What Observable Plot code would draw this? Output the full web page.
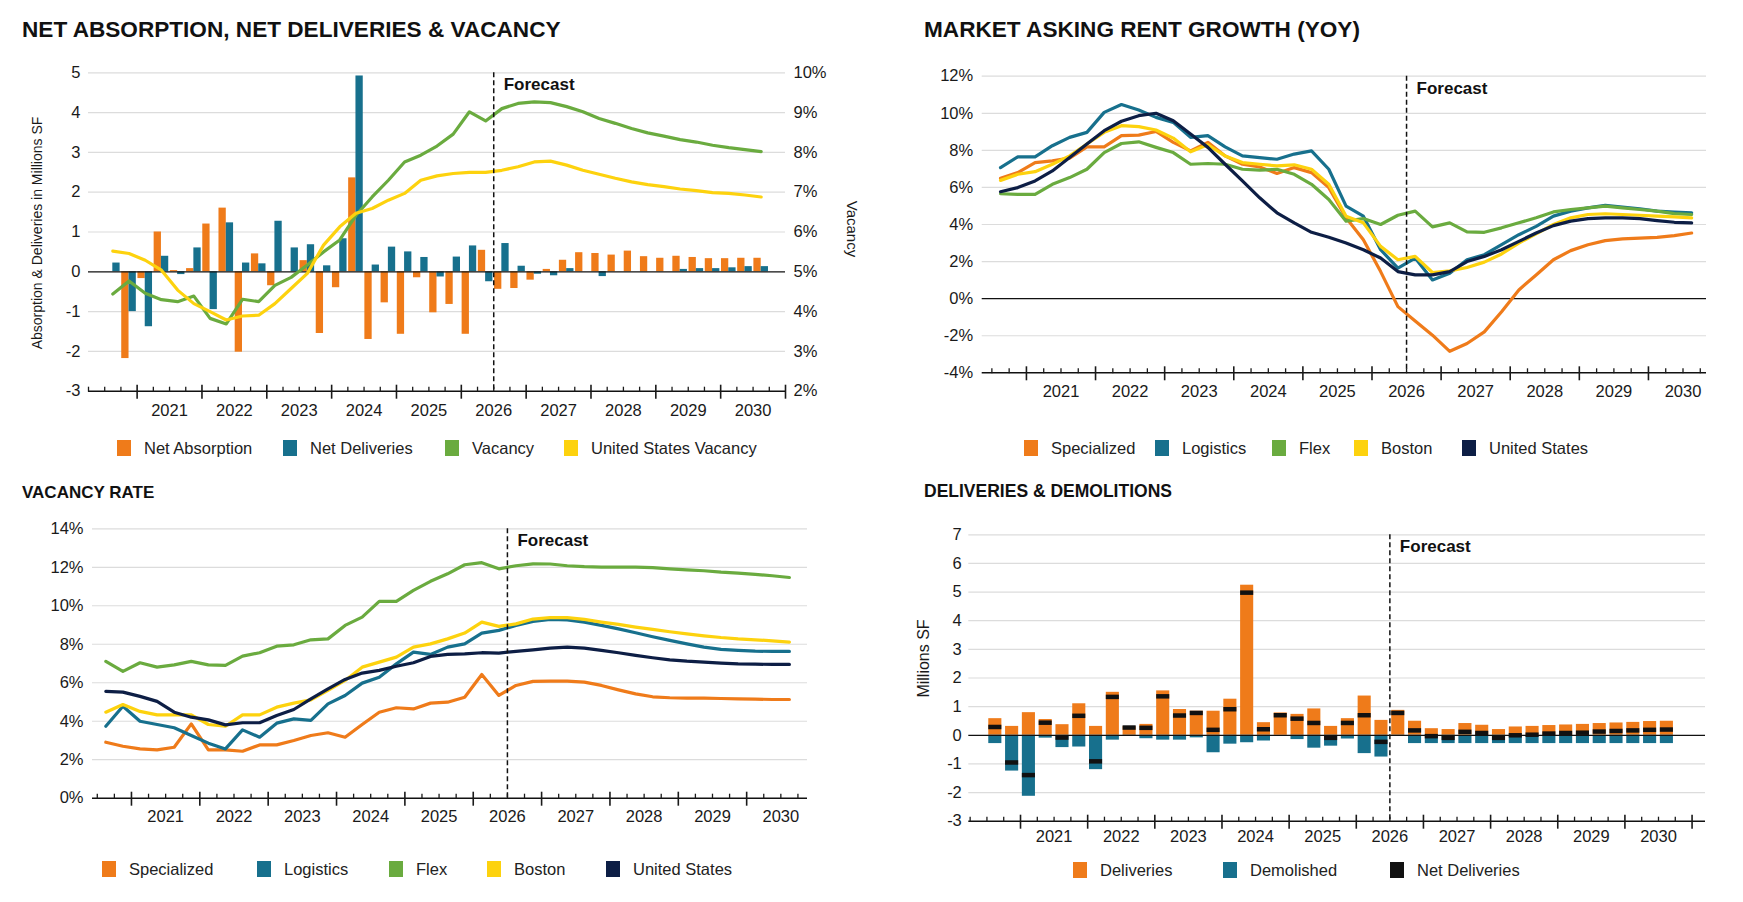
<!DOCTYPE html>
<html><head><meta charset="utf-8">
<script src="https://cdn.jsdelivr.net/npm/d3@7"></script>
<script src="https://cdn.jsdelivr.net/npm/@observablehq/plot@0.6"></script>
<style>
body{margin:0;background:#fff;font-family:"Liberation Sans",Arial,Helvetica,sans-serif;color:#111;}
#page{position:relative;width:1743px;height:902px;overflow:hidden;background:#fff;}
.title{position:absolute;font-weight:bold;white-space:nowrap;color:#111;line-height:1;}
.legend-item{position:absolute;display:flex;align-items:center;height:20px;font-size:16.5px;white-space:nowrap;color:#222;}
.legend-item .sw{width:14px;height:16px;margin-right:13px;}
</style></head><body><div id="page"></div>
<script>
// ---------- shared categories ----------
const quarters = ["2020 Q3","2020 Q4","2021 Q1","2021 Q2","2021 Q3","2021 Q4","2022 Q1","2022 Q2","2022 Q3","2022 Q4",
  "2023 Q1","2023 Q2","2023 Q3","2023 Q4","2024 Q1","2024 Q2","2024 Q3","2024 Q4","2025 Q1","2025 Q2","2025 Q3","2025 Q4",
  "2026 Q1","2026 Q2","2026 Q3","2026 Q4","2027 Q1","2027 Q2","2027 Q3","2027 Q4","2028 Q1","2028 Q2","2028 Q3","2028 Q4",
  "2029 Q1","2029 Q2","2029 Q3","2029 Q4","2030 Q1","2030 Q2","2030 Q3"];
const forecastStart = "2026 Q3";
const yearLabels = ["2021","2022","2023","2024","2025","2026","2027","2028","2029","2030"];

// ---------- panel 1: net absorption, net deliveries & vacancy ----------
const netAbsorption = [0,-2.18,-0.17,1.0,0.03,0.08,1.2,1.6,-2.02,0.45,-0.35,0,0.28,-1.55,-0.4,2.36,-1.7,-0.78,-1.57,-0.15,-1.03,-0.82,-1.57,0.54,-0.44,-0.42,-0.21,0.06,0.29,0.48,0.46,0.42,0.52,0.38,0.34,0.39,0.36,0.33,0.33,0.34,0.34];
const netDeliveries = [0.22,-1.0,-1.38,0.39,-0.07,0.6,-0.95,1.23,0.22,0.2,1.27,0.6,0.68,0.15,0.83,4.92,0.17,0.62,0.5,0.36,-0.13,0.37,0.65,-0.25,0.71,0.14,-0.06,-0.1,0.08,0,-0.12,0,0,0,0,0.06,0.08,0.08,0.1,0.13,0.13];
const vacancyMarket = [4.44,4.77,4.46,4.3,4.25,4.39,3.83,3.69,4.31,4.25,4.66,4.86,5.17,5.5,5.8,6.42,6.88,7.3,7.76,7.93,8.16,8.46,9.02,8.79,9.1,9.23,9.27,9.25,9.15,9.02,8.85,8.73,8.6,8.49,8.41,8.32,8.26,8.18,8.12,8.07,8.02];
const vacancyUS = [5.52,5.46,5.29,5.04,4.54,4.2,4.0,3.79,3.89,3.91,4.2,4.58,4.96,5.67,6.13,6.47,6.59,6.8,6.97,7.3,7.41,7.47,7.5,7.5,7.55,7.64,7.76,7.78,7.68,7.55,7.45,7.35,7.26,7.19,7.14,7.08,7.04,6.99,6.97,6.93,6.88];
const absorptionTicks = [-3,-2,-1,0,1,2,3,4,5];
const vacancyTicks = [2,3,4,5,6,7,8,9,10];
const vacancyAtZero = 5; // right-axis value aligned with 0 on the left axis

// ---------- panel 2: market asking rent growth ----------
const rentSpecialized = [6.5,6.8,7.34,7.43,7.58,8.19,8.19,8.79,8.82,9.02,8.43,7.97,8.43,7.7,7.25,7.1,6.75,7.07,6.8,5.99,4.36,3.18,1.46,-0.43,-1.21,-1.97,-2.84,-2.42,-1.79,-0.71,0.47,1.28,2.1,2.59,2.91,3.13,3.22,3.27,3.31,3.4,3.54];
const rentLogistics = [7.07,7.65,7.65,8.25,8.7,8.97,10.05,10.47,10.18,9.78,9.51,8.7,8.79,8.19,7.7,7.61,7.52,7.8,7.97,6.98,4.99,4.45,2.64,1.65,2.19,1.01,1.37,2.1,2.37,2.91,3.45,3.9,4.45,4.72,4.9,5.03,4.94,4.85,4.72,4.67,4.63];
const rentFlex = [5.66,5.62,5.62,6.17,6.53,6.98,7.88,8.37,8.46,8.16,7.88,7.25,7.29,7.25,6.98,6.93,6.98,6.71,6.17,5.35,4.18,4.32,4.0,4.5,4.72,3.87,4.09,3.6,3.58,3.82,4.09,4.36,4.68,4.81,4.9,4.99,4.9,4.81,4.72,4.59,4.54];
const rentBoston = [6.38,6.71,6.85,7.25,7.7,8.34,8.97,9.33,9.28,9.1,8.66,7.92,8.3,7.7,7.34,7.25,7.16,7.22,6.98,6.17,4.45,4.09,2.82,2.1,2.28,1.41,1.5,1.68,1.97,2.41,3.0,3.49,4.0,4.36,4.54,4.58,4.54,4.5,4.45,4.41,4.36];
const rentUS = [5.77,5.99,6.35,6.89,7.61,8.34,9.06,9.57,9.87,10.0,9.6,8.88,8.16,7.25,6.35,5.44,4.63,4.09,3.58,3.31,3.0,2.64,2.19,1.46,1.28,1.28,1.46,2.0,2.28,2.64,3.09,3.54,3.94,4.18,4.32,4.36,4.36,4.32,4.21,4.12,4.09];
const rentTicks = [-4,-2,0,2,4,6,8,10,12];

// ---------- panel 3: vacancy rate ----------
const vacSpecialized = [2.91,2.7,2.56,2.51,2.65,3.86,2.51,2.51,2.44,2.77,2.77,3.0,3.26,3.4,3.17,3.83,4.47,4.7,4.64,4.94,4.99,5.25,6.43,5.34,5.86,6.07,6.08,6.08,6.03,5.86,5.63,5.42,5.27,5.22,5.2,5.2,5.18,5.16,5.15,5.13,5.13];
const vacLogistics = [3.74,4.78,4.0,3.83,3.66,3.26,2.86,2.56,3.55,3.17,3.9,4.12,4.04,4.9,5.34,5.98,6.29,6.98,7.59,7.47,7.85,8.02,8.58,8.72,8.98,9.19,9.29,9.27,9.15,8.98,8.8,8.6,8.39,8.2,8.02,7.85,7.73,7.68,7.64,7.63,7.63];
const vacFlex = [7.11,6.59,7.04,6.81,6.93,7.11,6.93,6.9,7.38,7.56,7.9,7.97,8.23,8.28,8.98,9.41,10.23,10.23,10.8,11.27,11.66,12.13,12.24,11.92,12.08,12.18,12.17,12.08,12.03,12.01,12.01,12.01,11.98,11.92,11.87,11.82,11.75,11.7,11.63,11.56,11.47];
const vacBoston = [4.47,4.87,4.51,4.33,4.33,4.33,3.83,3.74,4.33,4.33,4.73,4.94,5.11,5.6,6.12,6.81,7.07,7.33,7.85,8.02,8.28,8.58,9.15,8.93,9.06,9.31,9.38,9.38,9.29,9.15,9.03,8.89,8.77,8.65,8.54,8.44,8.35,8.28,8.23,8.18,8.11];
const vacUS = [5.55,5.51,5.29,5.03,4.47,4.21,4.07,3.81,3.92,3.92,4.3,4.61,5.16,5.68,6.17,6.5,6.64,6.86,7.04,7.37,7.47,7.5,7.56,7.54,7.63,7.71,7.8,7.85,7.8,7.68,7.56,7.42,7.3,7.19,7.12,7.07,7.02,6.98,6.97,6.95,6.95];
const vacRateTicks = [0,2,4,6,8,10,12,14];

// ---------- panel 4: deliveries & demolitions ----------
const deliveries = [0.58,0.31,0.79,0.55,0.37,1.1,0.31,1.5,0.3,0.38,1.55,0.9,0.84,0.84,1.26,5.24,0.44,0.78,0.73,0.92,0.31,0.58,1.37,0.52,0.87,0.49,0.23,0.2,0.41,0.35,0.2,0.29,0.31,0.34,0.36,0.38,0.41,0.43,0.45,0.48,0.49];
const demolished = [-0.29,-1.25,-2.13,-0.1,-0.43,-0.41,-1.2,-0.17,-0.02,-0.12,-0.17,-0.17,-0.09,-0.61,-0.31,-0.26,-0.2,0,-0.15,-0.45,-0.38,-0.13,-0.64,-0.76,-0.02,-0.29,-0.29,-0.29,-0.29,-0.29,-0.29,-0.29,-0.29,-0.29,-0.29,-0.29,-0.29,-0.29,-0.29,-0.29,-0.29];
const netDeliveriesBar = [0.29,-0.95,-1.39,0.44,-0.08,0.68,-0.91,1.34,0.27,0.26,1.36,0.69,0.78,0.19,0.91,4.98,0.21,0.7,0.58,0.43,-0.09,0.43,0.7,-0.23,0.78,0.17,-0.03,-0.09,0.12,0.08,-0.09,0,0.02,0.06,0.08,0.09,0.13,0.15,0.17,0.19,0.2];
const deliveryTicks = [-3,-2,-1,0,1,2,3,4,5,6,7];

// ---------- styling ----------
const ORANGE = "#EF7B1A", TEAL = "#17708D", GREEN = "#6AAB3F", YELLOW = "#FDD20E", NAVY = "#0D1E45", BLACK = "#111111";
const FONT = '"Liberation Sans", Arial, Helvetica, sans-serif';
const LW = 3.2;
const GRID = "#dcdcdc";

const page = document.getElementById("page");
const qStart = q => { const [y, n] = q.split(" Q"); return +y + (+n - 1) / 4; };
const qMid = q => qStart(q) + 0.125;
const forecastT = qStart(forecastStart);

function timeAxis(xDomain, yMin, labelPad) {
  const qt = d3.range(Math.ceil(xDomain[0] * 4 - 1e-6), Math.floor(xDomain[1] * 4 + 1e-6) + 1).map(k => k / 4);
  const major = qt.filter(t => Number.isInteger(t));
  const minor = qt.filter(t => !Number.isInteger(t));
  return [
    Plot.ruleY([yMin], {stroke: BLACK, strokeWidth: 1.4}),
    Plot.axisX({ticks: minor, tickSize: 5, dy: -4, tickFormat: () => "", label: null, strokeWidth: 1.3}),
    Plot.axisX({ticks: major, tickSize: 14, dy: -6, tickFormat: () => "", label: null, strokeWidth: 1.6}),
    Plot.axisX({ticks: yearLabels.map(y => +y + 0.5), tickSize: 0, tickPadding: labelPad, tickFormat: d => String(Math.floor(d)), label: null})
  ];
}

function forecastMarks() {
  return [
    Plot.ruleX([forecastT], {stroke: BLACK, strokeWidth: 1.5, strokeDasharray: "5,3"}),
    Plot.text([forecastT], {x: d => d, text: () => "Forecast", frameAnchor: "top", textAnchor: "start", lineAnchor: "middle", dx: 10, dy: 12, fontWeight: "bold", fontSize: 17, fill: BLACK})
  ];
}

function axisTitle(label, side, dx, dy, size) {
  return Plot.text([label], {frameAnchor: side, text: d => d, rotate: side === "left" ? -90 : 90, textAnchor: "middle", lineAnchor: "middle", dx, dy, fontSize: size, fill: "#1a1a1a"});
}

function panel({left, top, width, height, frame, xDomain, yDomain, marks}) {
  const svg = Plot.plot({
    width, height,
    marginLeft: frame.x0 - left, marginRight: left + width - frame.x1,
    marginTop: frame.y0 - top, marginBottom: top + height - frame.y1,
    x: {domain: xDomain},
    y: {domain: yDomain},
    style: {fontFamily: FONT, fontSize: "16.5px", color: "#1a1a1a", background: "transparent", overflow: "visible"},
    marks
  });
  svg.style.position = "absolute";
  svg.style.left = left + "px";
  svg.style.top = top + "px";
  page.appendChild(svg);
}

function title(text, left, centerY, size) {
  const d = document.createElement("div");
  d.className = "title";
  d.textContent = text;
  d.style.left = left + "px";
  d.style.top = (centerY - 0.49 * size) + "px";
  d.style.fontSize = size + "px";
  page.appendChild(d);
}

function legend(items, xs, centerY) {
  items.forEach(([label, color], i) => {
    const it = d3.select(page).append("div").attr("class", "legend-item")
      .style("left", xs[i] + "px").style("top", (centerY - 10) + "px");
    it.append("div").attr("class", "sw").style("background", color);
    it.append("span").text(label);
  });
}

// ================= Panel 1 =================
{
  const data = quarters.map((q, i) => ({t: qMid(q), abs: netAbsorption[i], del: netDeliveries[i], vac: vacancyMarket[i], us: vacancyUS[i]}));
  const half = 0.1125;
  const xDomain = [2020.25, 2031];
  panel({
    left: 0, top: 40, width: 870, height: 410,
    frame: {x0: 88, x1: 785, y0: 72.3, y1: 390.7},
    xDomain, yDomain: [-3, 5],
    marks: [
      Plot.gridY({ticks: absorptionTicks.filter(d => d !== 0 && d !== -3), stroke: GRID, strokeOpacity: 1, strokeWidth: 1.2}),
      Plot.rect(data, {x1: d => d.t - half, x2: d => d.t, y1: 0, y2: "abs", fill: ORANGE}),
      Plot.rect(data, {x1: d => d.t, x2: d => d.t + half, y1: 0, y2: "del", fill: TEAL}),
      Plot.ruleY([0], {stroke: BLACK, strokeWidth: 1.3}),
      Plot.line(data, {x: "t", y: d => d.vac - vacancyAtZero, stroke: GREEN, strokeWidth: LW, strokeLinejoin: "round"}),
      Plot.line(data, {x: "t", y: d => d.us - vacancyAtZero, stroke: YELLOW, strokeWidth: LW, strokeLinejoin: "round"}),
      ...forecastMarks(),
      Plot.axisY({ticks: absorptionTicks, tickSize: 0, tickPadding: 8, tickFormat: d => String(d), label: null}),
      Plot.axisY({anchor: "right", ticks: vacancyTicks.map(v => v - vacancyAtZero), tickSize: 0, tickPadding: 8, tickFormat: d => `${d + vacancyAtZero}%`, label: null}),
      axisTitle("Absorption & Deliveries in Millions SF", "left", -51, 1, 14),
      axisTitle("Vacancy", "right", 66, -3, 15),
      ...timeAxis(xDomain, -3, 13)
    ]
  });
}

// ================= Panel 2 =================
{
  const data = quarters.map((q, i) => ({t: qMid(q), sp: rentSpecialized[i], lo: rentLogistics[i], fl: rentFlex[i], bo: rentBoston[i], us: rentUS[i]}));
  const xDomain = [2020.36, 2030.84];
  panel({
    left: 880, top: 40, width: 863, height: 410,
    frame: {x0: 981.7, x1: 1706, y0: 75.7, y1: 372.3},
    xDomain, yDomain: [-4, 12],
    marks: [
      Plot.gridY({ticks: rentTicks.filter(d => d !== 0 && d !== -4), stroke: GRID, strokeOpacity: 1, strokeWidth: 1.2}),
      Plot.ruleY([0], {stroke: BLACK, strokeWidth: 1.3}),
      Plot.line(data, {x: "t", y: "sp", stroke: ORANGE, strokeWidth: LW, strokeLinejoin: "round"}),
      Plot.line(data, {x: "t", y: "lo", stroke: TEAL, strokeWidth: LW, strokeLinejoin: "round"}),
      Plot.line(data, {x: "t", y: "fl", stroke: GREEN, strokeWidth: LW, strokeLinejoin: "round"}),
      Plot.line(data, {x: "t", y: "bo", stroke: YELLOW, strokeWidth: LW, strokeLinejoin: "round"}),
      Plot.line(data, {x: "t", y: "us", stroke: NAVY, strokeWidth: LW, strokeLinejoin: "round"}),
      ...forecastMarks(),
      Plot.axisY({ticks: rentTicks, tickSize: 0, tickPadding: 9, tickFormat: d => `${d}%`, label: null}),
      ...timeAxis(xDomain, -4, 12)
    ]
  });
}

// ================= Panel 3 =================
{
  const data = quarters.map((q, i) => ({t: qMid(q), sp: vacSpecialized[i], lo: vacLogistics[i], fl: vacFlex[i], bo: vacBoston[i], us: vacUS[i]}));
  const xDomain = [2020.43, 2030.89];
  panel({
    left: 0, top: 505, width: 870, height: 345,
    frame: {x0: 92, x1: 807, y0: 528.3, y1: 797.7},
    xDomain, yDomain: [0, 14],
    marks: [
      Plot.gridY({ticks: vacRateTicks.filter(d => d !== 0), stroke: GRID, strokeOpacity: 1, strokeWidth: 1.2}),
      Plot.line(data, {x: "t", y: "sp", stroke: ORANGE, strokeWidth: LW, strokeLinejoin: "round"}),
      Plot.line(data, {x: "t", y: "lo", stroke: TEAL, strokeWidth: LW, strokeLinejoin: "round"}),
      Plot.line(data, {x: "t", y: "fl", stroke: GREEN, strokeWidth: LW, strokeLinejoin: "round"}),
      Plot.line(data, {x: "t", y: "bo", stroke: YELLOW, strokeWidth: LW, strokeLinejoin: "round"}),
      Plot.line(data, {x: "t", y: "us", stroke: NAVY, strokeWidth: LW, strokeLinejoin: "round"}),
      ...forecastMarks(),
      Plot.axisY({ticks: vacRateTicks, tickSize: 0, tickPadding: 9, tickFormat: d => `${d}%`, label: null}),
      ...timeAxis(xDomain, 0, 12)
    ]
  });
}

// ================= Panel 4 =================
{
  const data = quarters.map((q, i) => ({t: qMid(q), dl: deliveries[i], dm: demolished[i], net: netDeliveriesBar[i]}));
  const half = 0.0975;
  const xDomain = [2020.23, 2031.2];
  panel({
    left: 880, top: 505, width: 863, height: 345,
    frame: {x0: 968.3, x1: 1705, y0: 534.3, y1: 820.7},
    xDomain, yDomain: [-3, 7],
    marks: [
      Plot.gridY({ticks: deliveryTicks.filter(d => d !== 0 && d !== -3), stroke: GRID, strokeOpacity: 1, strokeWidth: 1.2}),
      Plot.rect(data, {x1: d => d.t - half, x2: d => d.t + half, y1: 0, y2: "dl", fill: ORANGE}),
      Plot.rect(data, {x1: d => d.t - half, x2: d => d.t + half, y1: 0, y2: "dm", fill: TEAL}),
      Plot.ruleY([0], {stroke: BLACK, strokeWidth: 1.3}),
      Plot.ruleY(data, {x1: d => d.t - half, x2: d => d.t + half, y: "net", stroke: BLACK, strokeWidth: 4.5}),
      ...forecastMarks(),
      Plot.axisY({ticks: deliveryTicks, tickSize: 0, tickPadding: 7, tickFormat: d => String(d), label: null}),
      axisTitle("Millions SF", "left", -45, -19.5, 16),
      ...timeAxis(xDomain, -3, 9)
    ]
  });
}

// ================= Titles & legends =================
title("NET ABSORPTION, NET DELIVERIES & VACANCY", 22, 30, 22.6);
title("MARKET ASKING RENT GROWTH (YOY)", 924, 30, 22.6);
title("VACANCY RATE", 22, 492, 17);
title("DELIVERIES & DEMOLITIONS", 924, 492, 17.5);

legend([["Net Absorption", ORANGE], ["Net Deliveries", TEAL], ["Vacancy", GREEN], ["United States Vacancy", YELLOW]], [117, 283, 445, 564], 448);
legend([["Specialized", ORANGE], ["Logistics", TEAL], ["Flex", GREEN], ["Boston", YELLOW], ["United States", NAVY]], [1024, 1155, 1272, 1354, 1462], 448);
legend([["Specialized", ORANGE], ["Logistics", TEAL], ["Flex", GREEN], ["Boston", YELLOW], ["United States", NAVY]], [102, 257, 389, 487, 606], 869);
legend([["Deliveries", ORANGE], ["Demolished", TEAL], ["Net Deliveries", BLACK]], [1073, 1223, 1390], 870);
</script></body></html>
